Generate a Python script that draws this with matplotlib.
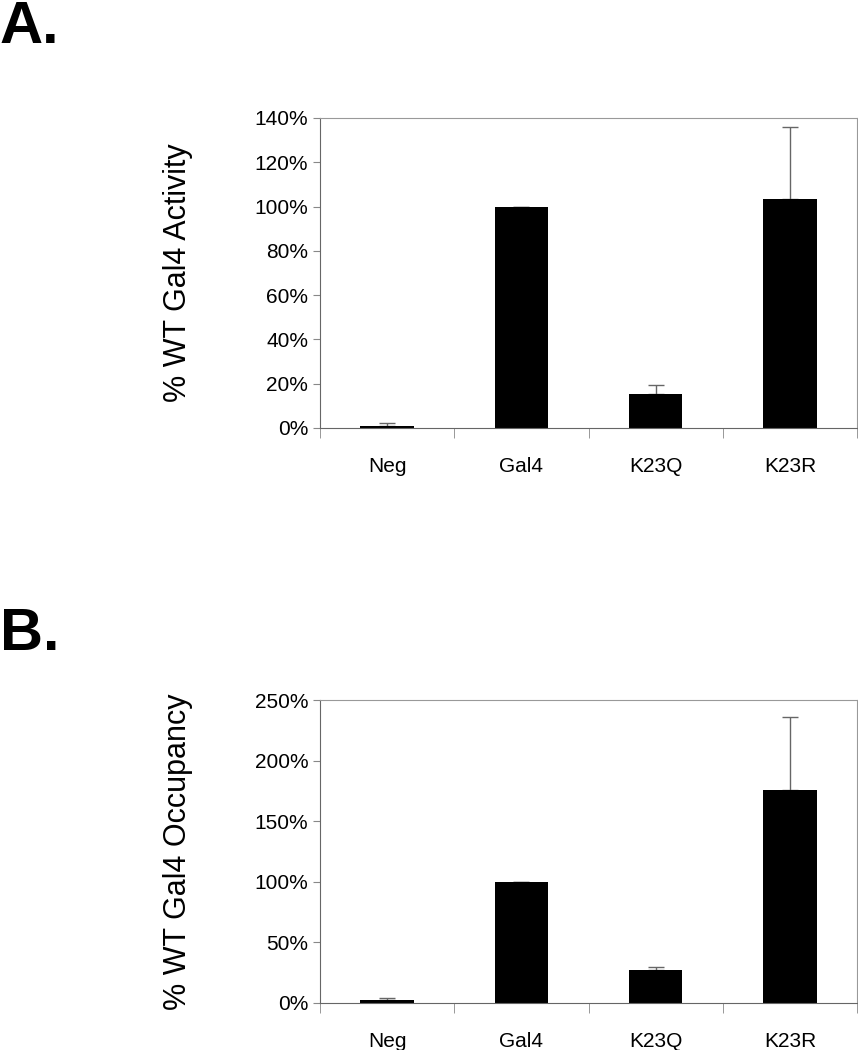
import matplotlib
matplotlib.use('Agg')
import matplotlib.pyplot as plt
from matplotlib.ticker import FuncFormatter, FixedLocator

plt.rcParams['font.family'] = ['Liberation Sans', 'DejaVu Sans']

categories = ['Neg', 'Gal4', 'K23Q', 'K23R']

# panel A: % WT Gal4 activity
activity = [1.0, 100.0, 15.4, 103.5]
activity_err = [1.3, 0.0, 4.0, 32.5]

# panel B: % WT Gal4 occupancy
occupancy = [2.2, 100.0, 27.5, 176.0]
occupancy_err = [1.6, 0.0, 1.9, 60.0]

fig = plt.figure(figsize=(8.58, 10.5), dpi=100)

W, H = 858, 1050
left, right = 320, 857


def panel(top, bottom, vals, errs, ymax, step, ylabel, letter, letter_base):
    ax = fig.add_axes([left / W, 1 - bottom / H, (right - left) / W, (bottom - top) / H])
    x = range(len(categories))
    ax.bar(x, vals, width=0.4, color='black', zorder=2)
    ax.errorbar(x, vals, yerr=[[0] * len(errs), errs], fmt='none',
                ecolor='#666666', elinewidth=1, capsize=6, capthick=1, zorder=1)
    ax.set_xlim(-0.5, len(categories) - 0.5)
    ax.set_ylim(0, ymax)
    ax.set_yticks(range(0, ymax + 1, step))
    ax.yaxis.set_major_formatter(FuncFormatter(lambda v, p: f'{v:.0f}%'))
    ax.set_xticks(list(x))
    ax.set_xticklabels(categories, fontsize=15)
    ax.xaxis.set_minor_locator(FixedLocator([i - 0.5 for i in range(len(categories) + 1)]))
    ax.tick_params(axis='x', which='major', length=0, pad=21)
    ax.tick_params(axis='x', which='minor', length=7, color='#888888', direction='out')
    ax.tick_params(axis='y', length=5, color='#888888', direction='out', labelsize=15)
    for s in ax.spines.values():
        s.set_color('#999999')
    for s in ['left', 'bottom']:
        ax.spines[s].set_color('#666666')
    ax.set_ylabel(ylabel, fontsize=22, labelpad=44)
    fig.text(0.0, 1 - letter_base / H, letter, fontsize=43, fontweight='bold',
             va='baseline', ha='left')
    return ax


panel(118, 428, activity, activity_err, 140, 20, '% WT Gal4 Activity', 'A.', 43)
panel(700, 1003, occupancy, occupancy_err, 250, 50, '% WT Gal4 Occupancy', 'B.', 650)

fig.savefig('out.png', dpi=100)
